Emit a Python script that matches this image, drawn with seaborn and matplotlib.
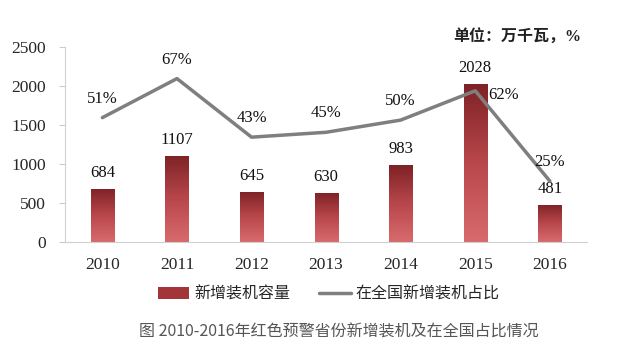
import numpy as np
import matplotlib
matplotlib.use("Agg")
import matplotlib.pyplot as plt
import seaborn as sns
from matplotlib.patches import Patch
from matplotlib.lines import Line2D

# data
years = ['2010', '2011', '2012', '2013', '2014', '2015', '2016']
capacity = [684, 1107, 645, 630, 983, 2028, 481]
share = [51, 67, 43, 45, 50, 62, 25]

sns.set_style("white")
serif = ['Liberation Serif', 'Noto Sans CJK SC']
plt.rcParams['font.family'] = serif

fig = plt.figure(figsize=(6.32, 3.55), dpi=100)
ax = fig.add_axes([0.103, 0.318, 0.826, 0.550])

sns.barplot(x=years, y=capacity, ax=ax, color='#b03a3e', width=0.31, saturation=1)

# gradient fill on bars: dark top, lighter bottom
grad = np.linspace(0, 1, 100).reshape(-1, 1)
cmap = matplotlib.colors.LinearSegmentedColormap.from_list('bar', ['#d86a6c', '#b8474b', '#7e2226'])
for p in ax.patches:
    x0, w, h = p.get_x(), p.get_width(), p.get_height()
    im = ax.imshow(grad, extent=(x0, x0 + w, 0, h), origin='lower', cmap=cmap, aspect='auto', zorder=2)
    im.set_clip_path(p)
    ax.annotate(f'{int(h)}', (x0 + w / 2, h), xytext=(0, 16), textcoords='offset pixels',
                ha='center', va='center', fontsize=12, color='#111111')

ax.set_xlim(-0.5, 6.5)
ax.set_ylim(0, 2500)
ax.set_yticks([0, 500, 1000, 1500, 2000, 2500])
ax.tick_params(axis='y', labelsize=12.5, length=4, color='#cccccc', pad=10)
ax.tick_params(axis='x', labelsize=12.5, length=0, pad=11)
for s in ['top', 'right']:
    ax.spines[s].set_visible(False)
ax.spines['left'].set_color('#d0d0d0')
ax.spines['bottom'].set_color('#d0d0d0')
ax.set_xlabel('')
ax.set_ylabel('')

ax2 = ax.twinx()
ax2.plot(range(len(years)), share, color='#7f7f7f', lw=2.5, zorder=3)
ax2.set_ylim(0, 80)
ax2.set_yticks([])
for s in ax2.spines.values():
    s.set_visible(False)
for i, v in enumerate(share):
    if i == 5:
        ax2.annotate(f'{v}%', (i, v), xytext=(13, -4), textcoords='offset pixels',
                     ha='left', va='center', fontsize=12, color='#111111')
    else:
        ax2.annotate(f'{v}%', (i, v), xytext=(0, 19), textcoords='offset pixels',
                     ha='center', va='center', fontsize=12, color='#111111')

fig.text(0.92, 0.895, '单位：万千瓦，%', ha='right', va='center', fontsize=11.5,
         fontweight='bold', color='#222222', family=serif)

handles = [Patch(facecolor='#a33438', edgecolor='none'),
           Line2D([0], [0], color='#7f7f7f', lw=2.5)]
fig.legend(handles, ['新增装机容量', '在全国新增装机占比'], loc='center', bbox_to_anchor=(0.52, 0.17),
           ncol=2, frameon=False, handlelength=2.0, handletextpad=0.3, columnspacing=1.8,
           prop={'family': serif, 'size': 11.5})

fig.text(0.536, 0.065, '图 2010-2016年红色预警省份新增装机及在全国占比情况', ha='center', va='center',
         fontsize=11.5, color='#555555', family=['Noto Sans CJK SC', 'DejaVu Sans'])

fig.savefig('out.png', dpi=100)
